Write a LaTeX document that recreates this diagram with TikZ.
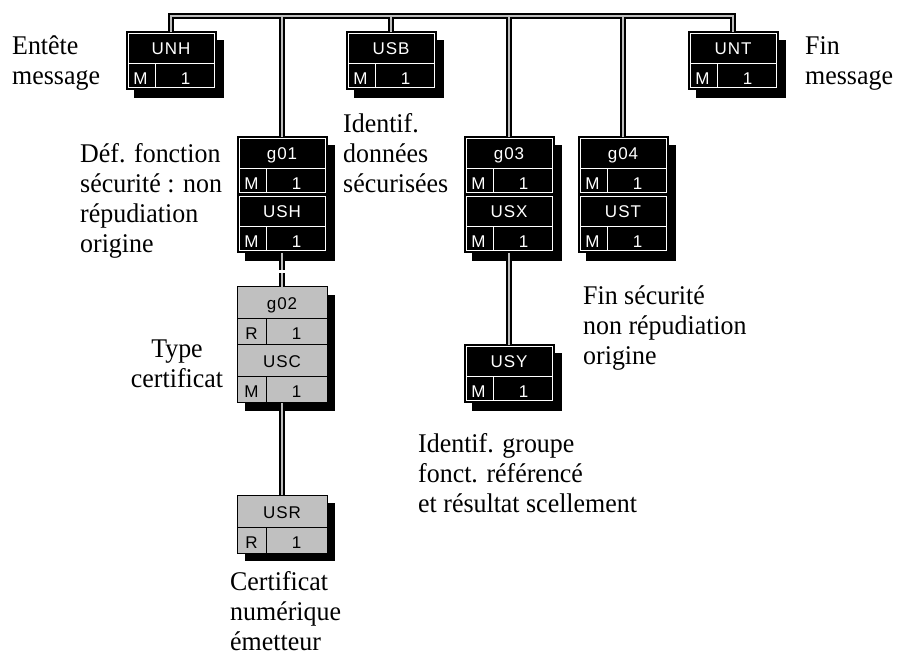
\documentclass[tikz,border=0pt]{standalone}
\usepackage{fontspec}
\setmainfont{Liberation Serif}
\newfontfamily\boxfont{Liberation Sans}[LetterSpace=6]
\newfontfamily\notefont{Liberation Serif}[FakeStretch=0.96]
\usetikzlibrary{shadows}
\definecolor{seg_gray}{RGB}{192,192,192}
\definecolor{link_gray}{RGB}{190,190,190}
% one segment box: name, centre x, top y, tag, status, look (blk/gry)
\newcommand\seg[6]{%
  \node[segment,#6] (#1) at (#2,#3) {};
  \draw[#6frame] ([shift={(2pt,-2pt)}]#1.north west) rectangle ([shift={(-2pt,2pt)}]#1.south east);
  \draw[#6sep] ([shift={(2pt,-32pt)}]#1.north west) -- ([shift={(-2pt,-32pt)}]#1.north east);
  \draw[#6cut] ([shift={(29pt,-32pt)}]#1.north west) -- ([shift={(29pt,2pt)}]#1.south west);
  \node[segtext,#6text] at ([yshift=-23pt]#1.north) {#4};
  \node[segtext,#6text] at ([shift={(14.5pt,-53pt)}]#1.north west) {#5};
  \node[segtext,#6text] at ([shift={(59.5pt,-53pt)}]#1.north west) {1};
}

\begin{document}
\begin{tikzpicture}[x=1pt,y=-1pt]
    \tikzstyle{segment}=[rectangle, minimum width=90pt, minimum height=58pt, inner sep=0, outer sep=0, anchor=north, line width=1pt,
                         drop shadow={shadow xshift=8pt, shadow yshift=-8pt, fill=black, opacity=1}]
    \tikzstyle{blk}=[fill=black, draw=black]
    \tikzstyle{gry}=[fill=seg_gray, draw=black]
    \tikzstyle{blkframe}=[draw=white, line width=1pt]
    \tikzstyle{gryframe}=[draw=none]
    \tikzstyle{blksep}=[white, line width=1pt]
    \tikzstyle{grysep}=[black, line width=1pt, shorten <=-2pt, shorten >=-2pt]
    \tikzstyle{blkcut}=[white, line width=1pt]
    \tikzstyle{grycut}=[black, line width=1pt, shorten >=-2pt]
    \tikzstyle{segtext}=[font=\boxfont\fontsize{17}{17}\selectfont, anchor=base, inner sep=0]
    \tikzstyle{blktext}=[text=white]
    \tikzstyle{grytext}=[text=black]
    \tikzstyle{linkouter}=[line width=5.5pt, black]
    \tikzstyle{linkinner}=[line width=2pt, link_gray]
    \tikzstyle{note}=[font=\notefont\fontsize{27}{30}\selectfont, align=left, inner sep=0, anchor=base west]

    \useasboundingbox (0,0) rectangle (903,660);

    % message level
    \seg{unh}{171}{32}{UNH}{M}{blk}
    \seg{usb}{391}{32}{USB}{M}{blk}
    \seg{unt}{733}{32}{UNT}{M}{blk}
    % groups
    \seg{g01}{282}{137}{g01}{M}{blk}
    \seg{ush}{282}{195}{USH}{M}{blk}
    \seg{g02}{282}{287}{g02}{R}{gry}
    \seg{usc}{282}{345}{USC}{M}{gry}
    \seg{usr}{282}{495}{USR}{R}{gry}
    \seg{g03}{509}{137}{g03}{M}{blk}
    \seg{usx}{509}{195}{USX}{M}{blk}
    \seg{usy}{509}{345}{USY}{M}{blk}
    \seg{g04}{623}{137}{g04}{M}{blk}
    \seg{ust}{623}{195}{UST}{M}{blk}

    \coordinate (bus) at (0,16);
    \coordinate (brk) at (282,272);
    \foreach \pass in {outer,inner}{
      \draw[link\pass] (unh.north) -- (unh.north |- bus) -- (unt.north |- bus) -- (unt.north);
      \draw[link\pass] (usb.north) -- (usb.north |- bus);
      \draw[link\pass] (g01.north) -- (g01.north |- bus);
      \draw[link\pass] (g03.north) -- (g03.north |- bus);
      \draw[link\pass] (g04.north) -- (g04.north |- bus);
      \draw[link\pass] (ush.south) -- ([yshift=1.5pt]brk);
      \draw[link\pass] ([yshift=-1.5pt]brk) -- (g02.north);
      \draw[link\pass] (usc.south) -- (usr.north);
      \draw[link\pass] (usx.south) -- (usy.north);
    }

    \node[note] (unhnote) at (12,85)  {Entête\\message};
    \node[note] (untnote) at (805,85) {Fin\\message};
    \node[note] (g01note) at (80,253) {Déf. fonction\\sécurité : non\\répudiation\\origine};
    \node[note] (usbnote) at (343,193) {Identif.\\données\\sécurisées};
    \node[note] (g04note) at (583,365) {Fin sécurité\\non répudiation\\origine};
    \node[note,align=center,anchor=base] (uscnote) at (177,388) {Type\\certificat};
    \node[note] (usrnote) at (230,650) {Certificat\\numérique\\émetteur};
    \node[note] (usynote) at (418,512) {Identif. groupe\\fonct. référencé\\et résultat scellement};
\end{tikzpicture}
\end{document}
